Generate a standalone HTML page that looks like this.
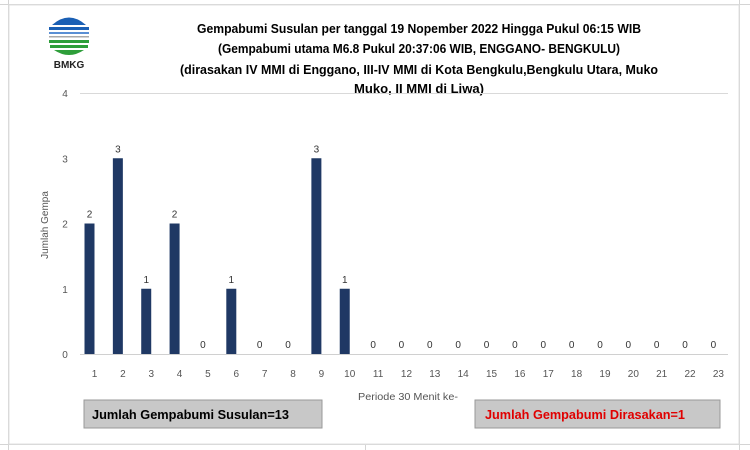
<!DOCTYPE html>
<html><head><meta charset="utf-8"><style>
body{margin:0;width:750px;height:450px;overflow:hidden;background:#fff;font-family:"Liberation Sans",sans-serif}
</style></head><body>
<svg width="750" height="450" style="position:absolute;left:0;top:0">
<g stroke="#d4d4d4" stroke-width="1">
<line x1="0" y1="4.5" x2="750" y2="4.5"/><line x1="0" y1="444.5" x2="750" y2="444.5"/>
<line x1="8.5" y1="0" x2="8.5" y2="450"/><line x1="739.5" y1="0" x2="739.5" y2="450"/>
<line x1="365.5" y1="444" x2="365.5" y2="450"/>
</g>
<rect x="9" y="5" width="730" height="439" fill="#fff" stroke="#e0e0e0"/>
<g>
<circle cx="69" cy="37" r="21" fill="#fff"/>
<path d="M52 25 Q69 10 86 25 Z" fill="#1a5fb4"/>
<rect x="49" y="27" width="40" height="3" fill="#1a5fb4"/>
<rect x="49" y="32" width="40" height="2" fill="#5a8fd4"/>
<rect x="49" y="36" width="40" height="1.5" fill="#aaa"/>
<rect x="49" y="40" width="40" height="3" fill="#2e9e3a"/>
<rect x="50" y="45" width="38" height="3" fill="#2e9e3a"/>
<path d="M54 50 L84 50 Q69 60 54 50 Z" fill="#2e9e3a"/>
<text x="69" y="68" font-size="10" font-weight="bold" text-anchor="middle" fill="#222">BMKG</text>
</g>
<g font-size="12.5" font-weight="bold" text-anchor="middle" fill="#000" font-family="'Liberation Sans',sans-serif">
<text x="419" y="33" textLength="444" lengthAdjust="spacingAndGlyphs">Gempabumi Susulan per tanggal 19 Nopember 2022 Hingga Pukul 06:15 WIB</text>
<text x="419" y="53" textLength="402" lengthAdjust="spacingAndGlyphs">(Gempabumi utama M6.8 Pukul 20:37:06 WIB, ENGGANO- BENGKULU)</text>
<text x="419" y="74" textLength="478" lengthAdjust="spacingAndGlyphs">(dirasakan IV MMI di Enggano, III-IV MMI di Kota Bengkulu,Bengkulu Utara, Muko</text>
<text x="419" y="93" textLength="130" lengthAdjust="spacingAndGlyphs">Muko, II MMI di Liwa)</text>
</g>
<g id="plot"></g>
<text transform="translate(48,225) rotate(-90)" font-size="10" fill="#555" text-anchor="middle">Jumlah Gempa</text>
<text x="408" y="400" font-size="10" fill="#555" text-anchor="middle" textLength="100" lengthAdjust="spacingAndGlyphs">Periode 30 Menit ke-</text>
<g>
<rect x="84" y="400" width="238" height="28" fill="#c8c8c8" stroke="#999"/>
<text x="92" y="419" font-size="12.5" font-weight="bold" fill="#000" textLength="197" lengthAdjust="spacingAndGlyphs">Jumlah Gempabumi Susulan=13</text>
</g>
<g>
<rect x="475" y="400" width="245" height="28" fill="#c8c8c8" stroke="#999"/>
<text x="485" y="419" font-size="12.5" font-weight="bold" fill="#e00000" textLength="200" lengthAdjust="spacingAndGlyphs">Jumlah Gempabumi Dirasakan=1</text>
</g>
</svg>
<script>
const categories=["1","2","3","4","5","6","7","8","9","10","11","12","13","14","15","16","17","18","19","20","21","22","23"];
const values=[2,3,1,2,0,1,0,0,3,1,0,0,0,0,0,0,0,0,0,0,0,0,0];
const yTicks=[0,1,2,3,4];
const NS="http://www.w3.org/2000/svg";
const g=document.getElementById('plot');
const y0=354,yTop=93,yMax=4,x0=89.5,step=28.36;
const y=v=>y0-(y0-yTop)*v/yMax;
const x=i=>x0+i*step;
function mk(t,a){const e=document.createElementNS(NS,t);for(const k in a)e.setAttribute(k,a[k]);g.appendChild(e);return e;}
yTicks.forEach(t=>{
 if(t===yMax){const l=mk('line',{x1:80,x2:728,y1:y(t)+.5,y2:y(t)+.5,stroke:'#d9d9d9'});
 
 }
 const tx=mk('text',{x:65,y:y(t)+4,'font-size':10,fill:'#555','text-anchor':'middle'});tx.textContent=t;
 
 
});
const ax=mk('line',{x1:80,x2:728,y1:y0+.5,y2:y0+.5,stroke:'#d0d0d0'});


categories.forEach((c,i)=>{
 const v=values[i];
 if(v>0){const r=mk('rect',{x:x(i)-5,y:y(v),width:10,height:y0-y(v),fill:'#1f3864'});
 
 }
 const lb=mk('text',{x:x(i),y:y(v)-6,'font-size':10,fill:'#333','text-anchor':'middle'});lb.textContent=v;
 
 
 const tl=mk('text',{x:x(i)+5,y:377,'font-size':10,fill:'#555','text-anchor':'middle'});tl.textContent=c;
 
 
});
</script>
</body></html>
